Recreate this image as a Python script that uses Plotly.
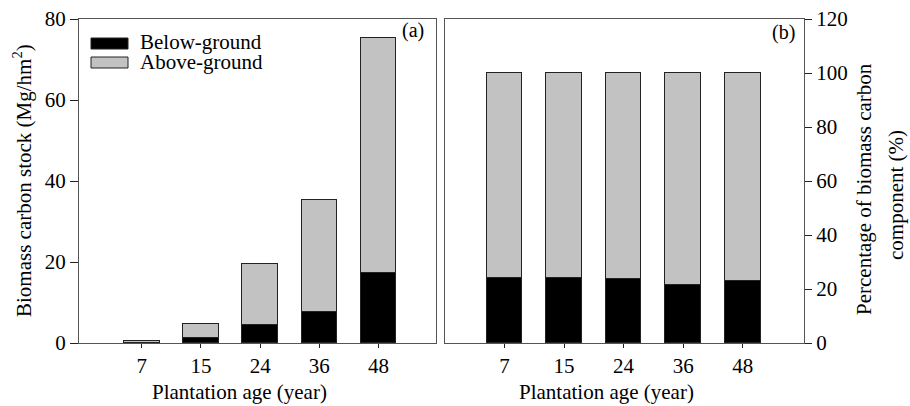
import plotly.graph_objects as go

ages = ["7", "15", "24", "36", "48"]
below_stock = [0.1, 1.2, 4.5, 7.65, 17.3]
above_stock = [0.3, 3.6, 14.9, 27.75, 57.9]
below_pct = [23.9, 24.2, 23.7, 21.6, 22.8]
above_pct = [100 - v for v in below_pct]

W, H = 910, 406
FONT = "Liberation Serif, Times New Roman, serif"
GRAY = "#c2c2c2"
EDGE = "#222222"
FRAME = "#555555"
FS = 21

def px(x):
    return x / W

def py(y):
    return 1 - y / H

pos = list(range(len(ages)))

fig = go.Figure()
fig.add_bar(x=pos, y=below_stock, width=0.6, marker=dict(color="black", line=dict(color=EDGE, width=1)),
            xaxis="x", yaxis="y", showlegend=False, name="Below-ground")
fig.add_bar(x=pos, y=above_stock, width=0.6, marker=dict(color=GRAY, line=dict(color=EDGE, width=1)),
            xaxis="x", yaxis="y", showlegend=False, name="Above-ground")
fig.add_bar(x=pos, y=below_pct, width=0.6, marker=dict(color="black", line=dict(color=EDGE, width=1)),
            xaxis="x2", yaxis="y2", showlegend=False, name="Below-ground")
fig.add_bar(x=pos, y=above_pct, width=0.6, marker=dict(color=GRAY, line=dict(color=EDGE, width=1)),
            xaxis="x2", yaxis="y2", showlegend=False, name="Above-ground")

tickfont = dict(family=FONT, size=FS, color="black")
common_x = dict(tickmode="array", tickvals=pos, ticktext=ages, ticks="outside", ticklen=4,
                tickcolor="#222222", showline=True, linecolor=FRAME, linewidth=1.3, mirror=True,
                showgrid=False, zeroline=False, tickfont=tickfont, automargin=False)
common_y = dict(ticks="outside", tickcolor="#222222", showline=True, linecolor=FRAME, linewidth=1.3,
                mirror=True, showgrid=False, zeroline=False, tickfont=tickfont, automargin=False)

fig.update_layout(
    width=W, height=H,
    margin=dict(l=0, r=0, t=0, b=0),
    template="none",
    paper_bgcolor="white", plot_bgcolor="white",
    barmode="stack", bargap=0,
    font=dict(family=FONT, size=FS, color="black"),
    xaxis=dict(domain=[px(79), px(436)], range=[-1.06, 4.97], anchor="y", **common_x),
    yaxis=dict(domain=[py(343), py(19)], range=[0, 80], tickvals=[0, 20, 40, 60, 80], ticklen=8,
               anchor="x", **common_y),
    xaxis2=dict(domain=[px(445), px(804)], range=[-1.0, 5.03], anchor="y2", **common_x),
    yaxis2=dict(domain=[py(343), py(19)], range=[0, 120], tickvals=[0, 20, 40, 60, 80, 100, 120],
                ticklen=7, side="right", anchor="x2", **common_y),
)

ann = []
ann.append(dict(text="Plantation age (year)", x=px(239), y=py(392), xref="paper", yref="paper",
                showarrow=False, xanchor="center", yanchor="middle", font=dict(size=FS)))
ann.append(dict(text="Plantation age (year)", x=px(606), y=py(392), xref="paper", yref="paper",
                showarrow=False, xanchor="center", yanchor="middle", font=dict(size=FS)))
ann.append(dict(text="Biomass carbon stock (Mg/hm<sup>2</sup>)", x=px(23), y=py(181), xref="paper", yref="paper",
                showarrow=False, xanchor="center", yanchor="middle", textangle=-90, font=dict(size=FS)))
ann.append(dict(text="Percentage of biomass carbon", x=px(864), y=py(189), xref="paper", yref="paper",
                showarrow=False, xanchor="center", yanchor="middle", textangle=-90, font=dict(size=FS)))
ann.append(dict(text="component (%)", x=px(896), y=py(195), xref="paper", yref="paper",
                showarrow=False, xanchor="center", yanchor="middle", textangle=-90, font=dict(size=FS)))
ann.append(dict(text="(a)", x=px(413), y=py(31), xref="paper", yref="paper",
                showarrow=False, xanchor="center", yanchor="middle", font=dict(size=20)))
ann.append(dict(text="(b)", x=px(783), y=py(33), xref="paper", yref="paper",
                showarrow=False, xanchor="center", yanchor="middle", font=dict(size=20)))
# legend text
ann.append(dict(text="Below-ground", x=px(138), y=py(42), xref="paper", yref="paper",
                showarrow=False, xanchor="left", yanchor="middle", font=dict(size=FS)))
ann.append(dict(text="Above-ground", x=px(138), y=py(62), xref="paper", yref="paper",
                showarrow=False, xanchor="left", yanchor="middle", font=dict(size=FS)))
fig.update_layout(annotations=ann)

shapes = [
    dict(type="rect", xref="paper", yref="paper", x0=px(91), x1=px(128), y0=py(49), y1=py(38),
         fillcolor="black", line=dict(color=EDGE, width=1)),
    dict(type="rect", xref="paper", yref="paper", x0=px(91), x1=px(128), y0=py(68), y1=py(57),
         fillcolor=GRAY, line=dict(color=EDGE, width=1)),
]
fig.update_layout(shapes=shapes)

fig.write_html("out.html", config={"displayModeBar": False},
               post_script="document.body.style.margin='0px';document.body.style.overflow='hidden';")
